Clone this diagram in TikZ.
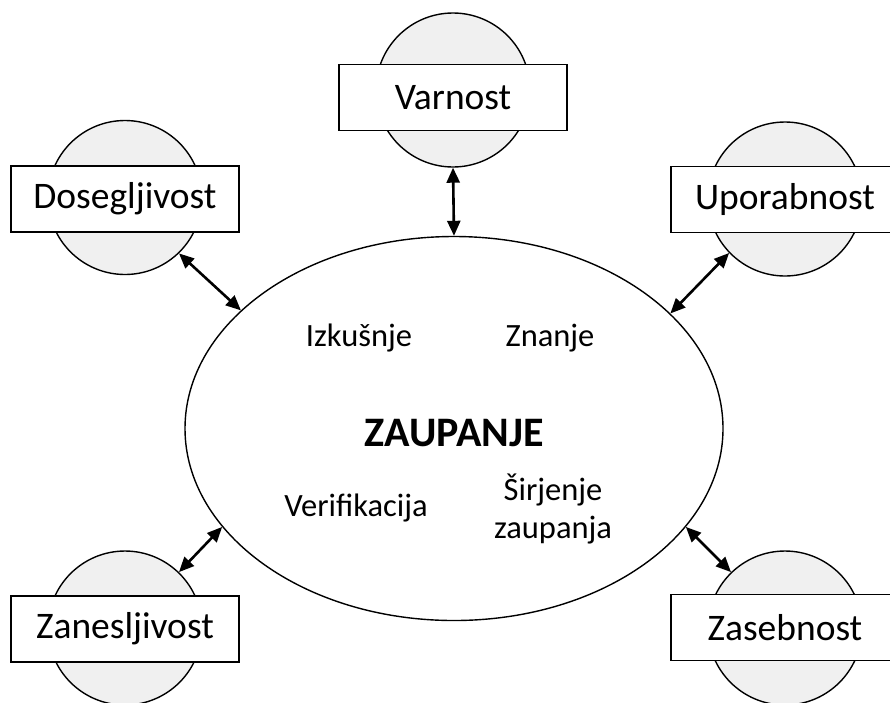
\documentclass[tikz,border=0pt]{standalone}
\usepackage{fontspec}
\setmainfont{Carlito}
\usetikzlibrary{arrows.meta,shapes.geometric}
\definecolor{circfill}{RGB}{240,240,240}
\tikzset{
  bubble/.style={circle,draw=black,line width=1.4pt,fill=circfill,minimum size=154pt,inner sep=0pt},
  labelbox/.style={rectangle,draw=black,line width=1.6pt,fill=white,minimum width=228pt,minimum height=66pt,inner sep=0pt,font=\fontsize{37.5pt}{42pt}\selectfont},
  core/.style={ellipse,draw=black,line width=1.4pt,minimum width=538pt,minimum height=384pt,inner sep=0pt},
  inner/.style={font=\fontsize{32.5pt}{38pt}\selectfont,align=center},
  link/.style={line width=2.6pt,{Triangle[length=15pt,width=13pt]}-{Triangle[length=15pt,width=13pt]},shorten <=0pt,shorten >=0pt}
}
\begin{document}
\begin{tikzpicture}[x=1pt,y=-1pt]
\useasboundingbox (0,0) rectangle (890,702);
% central ellipse
\node[core] (ell) at (454,428.5) {};
% bubbles
\node[bubble] (cv) at (453,90) {};
\node[bubble] (cd) at (125,197.5) {};
\node[bubble] (cu) at (785,199) {};
\node[bubble] (cz) at (125,628) {};
\node[bubble] (cs) at (785,628) {};
% boxes
\node[labelbox] (bv) at (453,97.5) {Varnost};
\node[labelbox] (bd) at (125,199) {Dosegljivost};
\node[labelbox] (bu) at (785,199.5) {Uporabnost};
\node[labelbox] (bz) at (125,629) {Zanesljivost};
\node[labelbox] (bs) at (785,627.5) {Zasebnost};
% inner texts
\node[inner] (t1) at (359,338) {Izkušnje};
\node[inner] (t2) at (550,338) {Znanje};
\node[font=\bfseries\fontsize{42pt}{46pt}\selectfont] (t0) at (454,433) {ZAUPANJE};
\node[inner] (t3) at (356,508) {Verifikacija};
\node[inner] (t4) at (553,509) {Širjenje\\zaupanja};
% links
\draw[link] (cv.south) -- (ell.north);
\draw[link] (cd.-46.5) -- (ell.151.3);
\draw[link] (cu.-136) -- (ell.28.6);
\draw[link] (cz.46.5) -- (ell.203.1);
\draw[link] (cs.134.5) -- (ell.-23.7);
\end{tikzpicture}
\end{document}
